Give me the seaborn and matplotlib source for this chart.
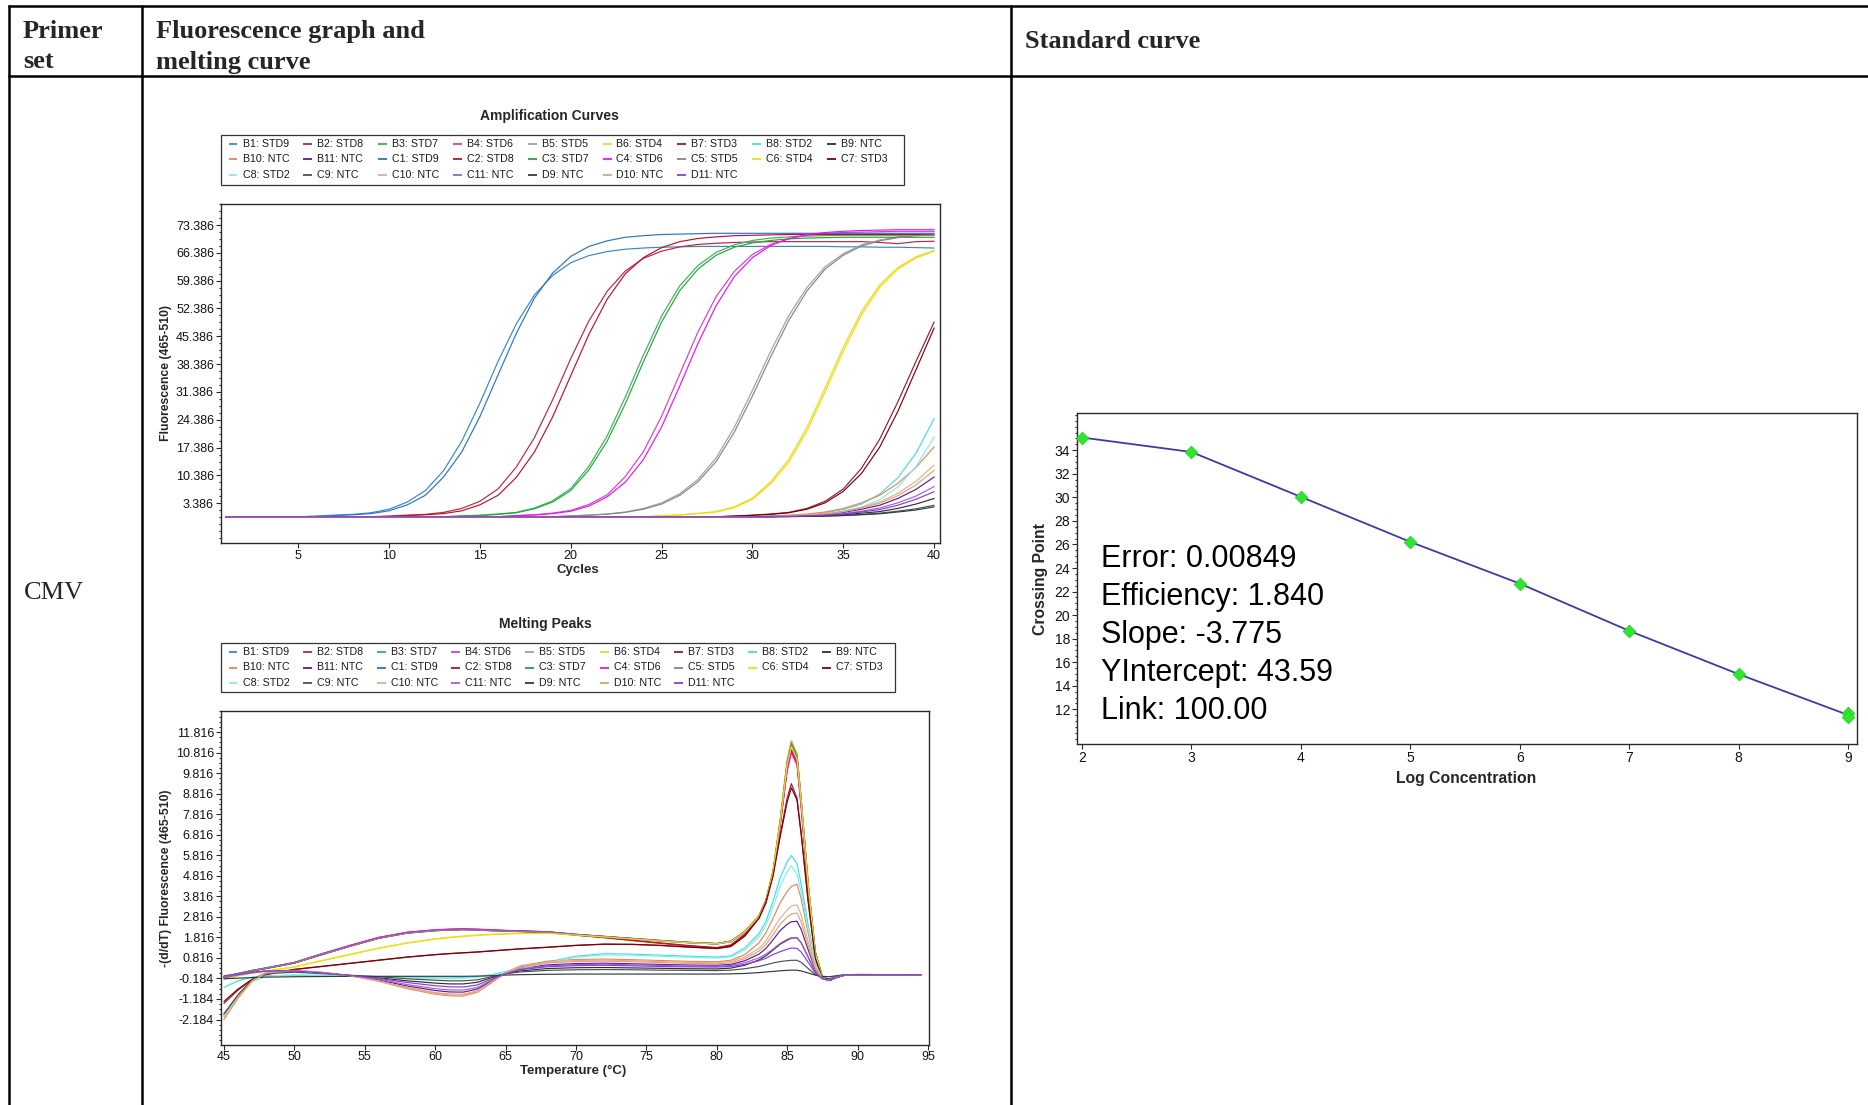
import matplotlib
matplotlib.use("Agg")
import matplotlib.pyplot as plt
from matplotlib.lines import Line2D
from matplotlib.patches import Rectangle
from matplotlib.ticker import AutoMinorLocator, FormatStrFormatter
import pandas as pd
import seaborn as sns

W, H, DPI = 1868, 1105, 100

# ---------------- wells / samples / colours ----------------
wells = ["B1", "B2", "B3", "B4", "B5", "B6", "B7", "B8", "B9",
         "B10", "B11", "C1", "C2", "C3", "C4", "C5", "C6", "C7",
         "C8", "C9", "C10", "C11", "D9", "D10", "D11"]
samples = ["STD9", "STD8", "STD7", "STD6", "STD5", "STD4", "STD3", "STD2", "NTC",
           "NTC", "NTC", "STD9", "STD8", "STD7", "STD6", "STD5", "STD4", "STD3",
           "STD2", "NTC", "NTC", "NTC", "NTC", "NTC", "NTC"]
well_colors = ["#3a86c8", "#b8283c", "#3cb060", "#d040c8", "#a0a0a0", "#e8d830", "#8c1c3c", "#40e0e0", "#303030",
               "#e8845a", "#5a1aa0", "#2a72d0", "#c0102c", "#20a838", "#ee10ee", "#858585", "#f0e000", "#800000",
               "#80eeee", "#505050", "#e0b090", "#a060d0", "#2a4040", "#e8a070", "#8a3ae0"]

# ---------------- amplification curves (fluorescence per cycle) ----------------
cycles = list(range(1, 41))
amp_B1 = [0, 0, 0, 0, 0, 0.2, 0.4, 0.6, 1.0, 1.9, 3.7, 6.6, 11.6, 19.0, 28.6, 39.1, 48.5, 55.8, 60.7, 63.9,
          65.7, 66.7, 67.3, 67.6, 67.8, 67.9, 68.0, 68.0, 68.0, 68.0, 68.0, 68.0, 68.0, 68.0, 67.9, 67.9, 67.8, 67.8, 67.7, 67.6]
amp_B2 = [0, 0, 0, 0, 0, 0, 0, 0, 0, 0.2, 0.4, 0.6, 1.1, 2.1, 3.9, 7.0, 12.5, 19.9, 29.4, 39.8,
          49.3, 56.7, 61.8, 65.0, 66.8, 67.9, 68.5, 68.8, 69.0, 69.1, 69.2, 69.2, 69.2, 69.2, 69.2, 69.2, 69.0, 68.7, 69.2, 69.3]
amp_B3 = [0, 0, 0, 0, 0, 0, 0, 0, 0, 0, 0, 0, 0, 0.2, 0.4, 0.7, 1.1, 2.2, 4.0, 7.1,
          12.7, 20.3, 30.1, 40.7, 50.5, 58.1, 63.2, 66.5, 68.4, 69.5, 70.1, 70.4, 70.6, 70.7, 70.8, 70.8, 70.8, 70.8, 70.8, 70.8]
amp_B4 = [0, 0, 0, 0, 0, 0, 0, 0, 0, 0, 0, 0, 0, 0, 0, 0, 0.3, 0.5, 0.9, 1.6,
          3.1, 5.5, 10.1, 16.4, 25.3, 35.9, 46.5, 55.4, 61.7, 66.0, 68.5, 69.9, 70.8, 71.2, 71.5, 71.6, 71.7, 71.8, 71.8, 71.8]
amp_B5 = [0, 0, 0, 0, 0, 0, 0, 0, 0, 0, 0, 0, 0, 0, 0, 0, 0, 0, 0, 0.25,
          0.4, 0.7, 1.2, 2.1, 3.5, 5.8, 9.4, 14.8, 22.5, 31.8, 41.6, 50.6, 57.7, 62.9, 66.2, 68.4, 69.6, 70.4, 70.9, 71.1]
amp_B6 = [0, 0, 0, 0, 0, 0, 0, 0, 0, 0, 0, 0, 0, 0, 0, 0, 0, 0, 0, 0,
          0, 0, 0, 0, 0.25, 0.5, 0.85, 1.3, 2.5, 4.7, 8.8, 14.4, 22.5, 32.4, 42.7, 51.6, 58.3, 62.7, 65.4, 67.0]
amp_B7 = [0, 0, 0, 0, 0, 0, 0, 0, 0, 0, 0, 0, 0, 0, 0, 0, 0, 0, 0, 0,
          0, 0, 0, 0, 0, 0, 0, 0, 0.2, 0.4, 0.7, 1.1, 2.1, 3.9, 7.0, 12.2, 19.5, 28.9, 39.1, 49.0]
amp_B8 = [0, 0, 0, 0, 0, 0, 0, 0, 0, 0, 0, 0, 0, 0, 0, 0, 0, 0, 0, 0,
          0, 0, 0, 0, 0, 0, 0, 0, 0, 0, 0, 0.3, 0.55, 1.0, 1.8, 3.2, 5.7, 9.8, 16.0, 24.7]
amp_B9 = [0, 0, 0, 0, 0, 0, 0, 0, 0, 0, 0, 0, 0, 0, 0, 0, 0, 0, 0, 0,
          0, 0, 0, 0, 0, 0, 0, 0, 0, 0, 0.05, 0.1, 0.2, 0.3, 0.5, 0.9, 1.3, 2.1, 3.2, 4.6]
amp_B10 = [0, 0, 0, 0, 0, 0, 0, 0, 0, 0, 0, 0, 0, 0, 0, 0, 0, 0, 0, 0,
           0, 0, 0, 0, 0, 0, 0, 0, 0, 0, 0.2, 0.4, 0.7, 1.2, 2.1, 3.5, 5.4, 8.4, 12.4, 17.6]
amp_B11 = [0, 0, 0, 0, 0, 0, 0, 0, 0, 0, 0, 0, 0, 0, 0, 0, 0, 0, 0, 0,
           0, 0, 0, 0, 0, 0, 0, 0, 0, 0, 0.1, 0.2, 0.4, 0.65, 1.1, 1.9, 2.9, 4.6, 6.9, 10.0]
amp_C1 = [0, 0, 0, 0, 0, 0, 0.3, 0.5, 0.8, 1.5, 3.0, 5.4, 10.0, 16.3, 25.2, 35.7, 46.1, 55.0, 61.3, 65.5,
          68.0, 69.4, 70.3, 70.7, 71.0, 71.1, 71.2, 71.3, 71.3, 71.3, 71.3, 71.3, 71.3, 71.3, 71.3, 71.3, 71.3, 71.3, 71.3, 71.3]
amp_C2 = [0, 0, 0, 0, 0, 0, 0, 0, 0, 0, 0.3, 0.5, 0.8, 1.5, 3.0, 5.4, 9.9, 16.3, 25.1, 35.5,
          45.9, 54.7, 61.1, 65.2, 67.7, 69.2, 70.0, 70.4, 70.7, 70.8, 70.9, 71.0, 71.0, 71.0, 71.0, 71.0, 71.0, 71.0, 71.0, 71.0]
amp_C3 = [0, 0, 0, 0, 0, 0, 0, 0, 0, 0, 0, 0, 0, 0.2, 0.3, 0.6, 1.0, 2.0, 3.7, 6.6,
          11.8, 19.0, 28.4, 39.0, 49.0, 56.9, 62.3, 65.8, 67.8, 68.9, 69.5, 69.9, 70.1, 70.2, 70.3, 70.3, 70.3, 70.3, 70.3, 70.3]
amp_C4 = [0, 0, 0, 0, 0, 0, 0, 0, 0, 0, 0, 0, 0, 0, 0, 0, 0.25, 0.45, 0.8, 1.4,
          2.7, 5.0, 8.7, 14.4, 22.6, 32.9, 43.6, 53.1, 60.4, 65.2, 68.2, 70.0, 71.0, 71.5, 71.8, 72.0, 72.1, 72.2, 72.2, 72.2]
amp_C5 = [0, 0, 0, 0, 0, 0, 0, 0, 0, 0, 0, 0, 0, 0, 0, 0, 0, 0, 0, 0.2,
          0.4, 0.65, 1.1, 1.9, 3.2, 5.4, 8.8, 13.9, 21.3, 30.4, 40.2, 49.4, 56.8, 62.3, 65.8, 68.1, 69.4, 70.2, 70.7, 70.9]
amp_C6 = [0, 0, 0, 0, 0, 0, 0, 0, 0, 0, 0, 0, 0, 0, 0, 0, 0, 0, 0, 0,
          0, 0, 0, 0, 0.2, 0.45, 0.8, 1.2, 2.3, 4.4, 8.3, 13.7, 21.6, 31.4, 41.7, 50.8, 57.7, 62.3, 65.1, 66.8]
amp_C7 = [0, 0, 0, 0, 0, 0, 0, 0, 0, 0, 0, 0, 0, 0, 0, 0, 0, 0, 0, 0,
          0, 0, 0, 0, 0, 0, 0, 0, 0.15, 0.35, 0.6, 1.0, 1.9, 3.5, 6.4, 10.9, 17.5, 26.5, 37.0, 47.5]
amp_C8 = [0, 0, 0, 0, 0, 0, 0, 0, 0, 0, 0, 0, 0, 0, 0, 0, 0, 0, 0, 0,
          0, 0, 0, 0, 0, 0, 0, 0, 0, 0, 0, 0, 0.4, 0.7, 1.3, 2.4, 4.3, 7.5, 12.6, 20.1]
amp_C9 = [0, 0, 0, 0, 0, 0, 0, 0, 0, 0, 0, 0, 0, 0, 0, 0, 0, 0, 0, 0,
          0, 0, 0, 0, 0, 0, 0, 0, 0, 0, 0, 0.05, 0.1, 0.2, 0.35, 0.6, 0.9, 1.4, 2.0, 2.9]
amp_C10 = [0, 0, 0, 0, 0, 0, 0, 0, 0, 0, 0, 0, 0, 0, 0, 0, 0, 0, 0, 0,
           0, 0, 0, 0, 0, 0, 0, 0, 0, 0, 0.15, 0.3, 0.5, 0.8, 1.4, 2.4, 3.7, 5.9, 8.9, 13.0]
amp_C11 = [0, 0, 0, 0, 0, 0, 0, 0, 0, 0, 0, 0, 0, 0, 0, 0, 0, 0, 0, 0,
           0, 0, 0, 0, 0, 0, 0, 0, 0, 0, 0.1, 0.15, 0.3, 0.5, 0.8, 1.4, 2.2, 3.5, 5.2, 7.6]
amp_D9 = [0, 0, 0, 0, 0, 0, 0, 0, 0, 0, 0, 0, 0, 0, 0, 0, 0, 0, 0, 0,
          0, 0, 0, 0, 0, 0, 0, 0, 0, 0, 0, 0.05, 0.1, 0.15, 0.3, 0.5, 0.75, 1.2, 1.7, 2.5]
amp_D10 = [0, 0, 0, 0, 0, 0, 0, 0, 0, 0, 0, 0, 0, 0, 0, 0, 0, 0, 0, 0,
           0, 0, 0, 0, 0, 0, 0, 0, 0, 0, 0.1, 0.25, 0.45, 0.75, 1.3, 2.2, 3.4, 5.3, 8.0, 11.7]
amp_D11 = [0, 0, 0, 0, 0, 0, 0, 0, 0, 0, 0, 0, 0, 0, 0, 0, 0, 0, 0, 0,
           0, 0, 0, 0, 0, 0, 0, 0, 0, 0, 0.05, 0.1, 0.25, 0.4, 0.7, 1.2, 1.8, 2.9, 4.4, 6.3]

amp_xticks = [5, 10, 15, 20, 25, 30, 35, 40]
amp_yticks = [3.386, 10.386, 17.386, 24.386, 31.386, 38.386, 45.386, 52.386, 59.386, 66.386, 73.386]

# ---------------- melting peaks (-dF/dT per temperature) ----------------
temps = [45, 46, 47, 48, 50, 52, 54, 56, 58, 60, 61, 62, 63, 64, 65, 66, 68, 70, 72, 74, 76,
         78, 80, 81, 82, 83, 83.5, 84, 84.5, 85, 85.3, 85.7, 86, 86.5, 87, 87.5, 88, 88.5, 89, 90, 92, 94.5]
melt_B1 = [-0.12, 0.04, 0.19, 0.31, 0.57, 1.00, 1.41, 1.79, 2.04, 2.16, 2.19, 2.21, 2.19, 2.16, 2.14, 2.12, 2.08, 1.96, 1.86, 1.76, 1.66,
           1.57, 1.51, 1.63, 2.12, 2.88, 3.65, 5.05, 7.5, 10.4, 11.4, 10.7, 8.5, 4.4, 1.1, -0.10, -0.26, -0.12, -0.03, 0.0, 0.0, 0.0]
melt_B2 = [-0.15, 0.02, 0.18, 0.30, 0.56, 0.98, 1.39, 1.77, 2.02, 2.14, 2.17, 2.19, 2.17, 2.14, 2.12, 2.10, 2.05, 1.92, 1.80, 1.66, 1.52,
           1.40, 1.30, 1.42, 1.95, 2.75, 3.5, 4.9, 7.3, 10.1, 11.0, 10.4, 8.3, 4.2, 1.0, -0.14, -0.28, -0.14, -0.04, 0.0, 0.0, 0.0]
melt_B3 = [-0.10, 0.05, 0.20, 0.32, 0.58, 1.01, 1.42, 1.80, 2.05, 2.16, 2.19, 2.21, 2.19, 2.16, 2.14, 2.12, 2.07, 1.95, 1.85, 1.75, 1.65,
           1.57, 1.50, 1.62, 2.10, 2.86, 3.62, 5.02, 7.45, 10.35, 11.3, 10.7, 8.5, 4.4, 1.1, -0.10, -0.25, -0.12, -0.03, 0.0, 0.0, 0.0]
melt_B4 = [-0.14, 0.03, 0.20, 0.33, 0.60, 1.03, 1.44, 1.82, 2.07, 2.19, 2.22, 2.24, 2.22, 2.19, 2.16, 2.14, 2.09, 1.96, 1.86, 1.76, 1.66,
           1.57, 1.51, 1.62, 2.08, 2.82, 3.55, 4.95, 7.3, 10.1, 11.0, 10.4, 8.3, 4.2, 1.0, -0.12, -0.27, -0.13, -0.03, 0.0, 0.0, 0.0]
melt_B5 = [-0.09, 0.06, 0.21, 0.33, 0.58, 1.00, 1.40, 1.78, 2.03, 2.15, 2.18, 2.20, 2.18, 2.15, 2.13, 2.11, 2.07, 1.95, 1.85, 1.75, 1.65,
           1.56, 1.50, 1.61, 2.08, 2.83, 3.58, 4.98, 7.35, 10.2, 11.1, 10.5, 8.4, 4.3, 1.0, -0.11, -0.26, -0.12, -0.03, 0.0, 0.0, 0.0]
melt_B6 = [-0.20, -0.05, 0.08, 0.18, 0.38, 0.70, 1.00, 1.30, 1.55, 1.75, 1.82, 1.88, 1.93, 1.97, 2.00, 2.02, 2.03, 1.94, 1.85, 1.75, 1.65,
           1.57, 1.51, 1.63, 2.12, 2.90, 3.7, 5.1, 7.6, 10.5, 11.4, 10.8, 8.6, 4.5, 1.1, -0.10, -0.26, -0.12, -0.03, 0.0, 0.0, 0.0]
melt_B7 = [-1.40, -0.75, -0.25, 0.00, 0.25, 0.40, 0.55, 0.70, 0.85, 0.97, 1.02, 1.06, 1.10, 1.15, 1.20, 1.25, 1.33, 1.42, 1.48, 1.47, 1.42,
           1.34, 1.27, 1.37, 1.90, 2.80, 3.6, 4.9, 6.8, 8.6, 9.3, 8.6, 6.9, 3.6, 0.8, -0.15, -0.28, -0.13, -0.03, 0.0, 0.0, 0.0]
melt_B8 = [-0.62, -0.30, -0.12, -0.05, -0.03, -0.05, -0.08, -0.11, -0.14, -0.16, -0.16, -0.14, -0.10, 0.00, 0.15, 0.32, 0.62, 0.90, 1.02, 1.00, 0.95,
           0.90, 0.86, 0.92, 1.30, 2.0, 2.6, 3.6, 4.7, 5.5, 5.8, 5.4, 4.4, 2.4, 0.6, -0.15, -0.24, -0.10, -0.02, 0.02, 0.0, 0.0]
melt_B9 = [-1.95, -1.00, -0.25, 0.10, 0.18, 0.08, -0.04, -0.15, -0.30, -0.41, -0.45, -0.45, -0.37, -0.15, 0.05, 0.18, 0.30, 0.34, 0.35, 0.33, 0.31,
           0.29, 0.28, 0.32, 0.46, 0.72, 0.92, 1.20, 1.48, 1.68, 1.78, 1.8, 1.55, 0.85, 0.15, -0.18, -0.25, -0.11, -0.02, 0.0, 0.0, 0.0]
melt_B10 = [-2.05, -1.05, -0.27, 0.12, 0.22, 0.12, -0.05, -0.32, -0.68, -0.95, -1.03, -1.04, -0.86, -0.40, 0.10, 0.42, 0.66, 0.74, 0.76, 0.73, 0.69,
            0.65, 0.63, 0.70, 0.98, 1.55, 2.05, 2.75, 3.5, 4.05, 4.3, 4.4, 3.7, 2.0, 0.45, -0.18, -0.28, -0.12, -0.02, 0.0, 0.0, 0.0]
melt_B11 = [-0.10, 0.00, 0.10, 0.18, 0.20, 0.10, -0.05, -0.26, -0.55, -0.77, -0.84, -0.85, -0.70, -0.32, 0.07, 0.30, 0.48, 0.54, 0.56, 0.53, 0.50,
            0.47, 0.46, 0.50, 0.68, 1.00, 1.28, 1.70, 2.15, 2.45, 2.58, 2.6, 2.2, 1.2, 0.25, -0.20, -0.28, -0.12, -0.02, 0.0, 0.0, 0.0]
melt_C1 = [-0.08, 0.06, 0.21, 0.33, 0.59, 1.02, 1.42, 1.80, 2.05, 2.17, 2.20, 2.22, 2.20, 2.17, 2.15, 2.13, 2.09, 1.97, 1.87, 1.77, 1.67,
           1.58, 1.52, 1.64, 2.10, 2.85, 3.6, 5.0, 7.4, 10.2, 11.2, 10.6, 8.4, 4.3, 1.0, -0.12, -0.27, -0.13, -0.04, 0.0, 0.0, 0.0]
melt_C2 = [-0.13, 0.03, 0.19, 0.31, 0.57, 0.99, 1.40, 1.78, 2.03, 2.15, 2.18, 2.20, 2.18, 2.15, 2.13, 2.11, 2.06, 1.93, 1.81, 1.68, 1.55,
           1.42, 1.32, 1.45, 1.97, 2.78, 3.55, 4.95, 7.3, 10.0, 10.9, 10.3, 8.2, 4.1, 0.9, -0.15, -0.29, -0.14, -0.04, 0.0, 0.0, 0.0]
melt_C3 = [-0.11, 0.04, 0.19, 0.31, 0.57, 1.00, 1.41, 1.79, 2.04, 2.15, 2.18, 2.20, 2.18, 2.15, 2.13, 2.11, 2.07, 1.94, 1.84, 1.74, 1.64,
           1.56, 1.50, 1.61, 2.09, 2.84, 3.6, 5.0, 7.4, 10.3, 11.2, 10.6, 8.4, 4.3, 1.1, -0.11, -0.26, -0.12, -0.03, 0.0, 0.0, 0.0]
melt_C4 = [-0.16, 0.02, 0.19, 0.32, 0.59, 1.02, 1.43, 1.81, 2.06, 2.18, 2.21, 2.23, 2.21, 2.18, 2.15, 2.13, 2.08, 1.95, 1.85, 1.75, 1.65,
           1.56, 1.50, 1.60, 2.05, 2.78, 3.5, 4.9, 7.2, 9.9, 10.8, 10.2, 8.1, 4.1, 0.9, -0.13, -0.28, -0.13, -0.04, 0.0, 0.0, 0.0]
melt_C5 = [-0.10, 0.05, 0.20, 0.32, 0.57, 0.99, 1.39, 1.77, 2.02, 2.14, 2.17, 2.19, 2.17, 2.14, 2.12, 2.10, 2.06, 1.94, 1.84, 1.74, 1.64,
           1.56, 1.50, 1.62, 2.10, 2.86, 3.62, 5.03, 7.45, 10.35, 11.3, 10.7, 8.5, 4.4, 1.1, -0.10, -0.25, -0.12, -0.03, 0.0, 0.0, 0.0]
melt_C6 = [-0.22, -0.06, 0.07, 0.17, 0.37, 0.68, 0.98, 1.28, 1.53, 1.73, 1.80, 1.86, 1.91, 1.95, 1.98, 2.00, 2.01, 1.93, 1.84, 1.74, 1.64,
           1.56, 1.50, 1.61, 2.08, 2.84, 3.6, 5.0, 7.4, 10.2, 11.1, 10.5, 8.4, 4.3, 1.0, -0.11, -0.26, -0.12, -0.03, 0.0, 0.0, 0.0]
melt_C7 = [-1.30, -0.70, -0.22, 0.02, 0.26, 0.41, 0.56, 0.71, 0.86, 0.98, 1.03, 1.07, 1.11, 1.16, 1.21, 1.26, 1.34, 1.43, 1.49, 1.48, 1.43,
           1.35, 1.28, 1.38, 1.88, 2.75, 3.55, 4.8, 6.7, 8.4, 9.1, 8.5, 6.8, 3.5, 0.8, -0.16, -0.29, -0.14, -0.03, 0.0, 0.0, 0.0]
melt_C8 = [-2.00, -1.10, -0.35, -0.08, 0.00, -0.02, -0.06, -0.10, -0.14, -0.18, -0.19, -0.17, -0.12, -0.02, 0.12, 0.28, 0.58, 0.85, 0.96, 0.95, 0.90,
           0.85, 0.81, 0.87, 1.20, 1.85, 2.4, 3.3, 4.3, 5.0, 5.3, 4.9, 4.0, 2.2, 0.5, -0.16, -0.25, -0.10, -0.02, 0.02, 0.0, 0.0]
melt_C9 = [-1.90, -0.98, -0.26, 0.05, 0.12, 0.05, -0.03, -0.10, -0.20, -0.27, -0.30, -0.30, -0.25, -0.10, 0.04, 0.13, 0.21, 0.24, 0.25, 0.24, 0.22,
           0.21, 0.20, 0.22, 0.29, 0.40, 0.48, 0.57, 0.64, 0.68, 0.7, 0.7, 0.6, 0.3, 0.0, -0.15, -0.20, -0.09, -0.02, 0.0, 0.0, 0.0]
melt_C10 = [-2.15, -1.10, -0.30, 0.10, 0.21, 0.11, -0.06, -0.31, -0.65, -0.91, -0.99, -1.00, -0.83, -0.38, 0.09, 0.39, 0.62, 0.69, 0.71, 0.68, 0.64,
            0.60, 0.58, 0.64, 0.86, 1.28, 1.65, 2.2, 2.75, 3.15, 3.35, 3.4, 2.9, 1.6, 0.35, -0.19, -0.28, -0.12, -0.02, 0.0, 0.0, 0.0]
melt_C11 = [-0.15, -0.02, 0.09, 0.17, 0.19, 0.09, -0.05, -0.22, -0.48, -0.68, -0.74, -0.75, -0.62, -0.28, 0.06, 0.27, 0.43, 0.49, 0.51, 0.48, 0.45,
            0.42, 0.41, 0.45, 0.58, 0.82, 1.00, 1.25, 1.52, 1.72, 1.8, 1.8, 1.55, 0.85, 0.15, -0.20, -0.27, -0.12, -0.02, 0.0, 0.0, 0.0]
melt_D9 = [-0.20, -0.17, -0.14, -0.12, -0.10, -0.09, -0.08, -0.08, -0.08, -0.08, -0.08, -0.08, -0.07, -0.05, -0.02, 0.00, 0.02, 0.03, 0.03, 0.03, 0.03,
           0.03, 0.03, 0.04, 0.06, 0.10, 0.13, 0.16, 0.19, 0.21, 0.22, 0.22, 0.18, 0.08, -0.02, -0.08, -0.10, -0.05, -0.01, 0.0, 0.0, 0.0]
melt_D10 = [-2.20, -1.15, -0.32, 0.08, 0.20, 0.10, -0.06, -0.30, -0.62, -0.87, -0.94, -0.95, -0.79, -0.36, 0.08, 0.36, 0.58, 0.64, 0.66, 0.63, 0.59,
            0.55, 0.53, 0.58, 0.78, 1.15, 1.48, 1.95, 2.45, 2.8, 2.95, 3.0, 2.55, 1.4, 0.3, -0.20, -0.28, -0.12, -0.02, 0.0, 0.0, 0.0]
melt_D11 = [-0.05, 0.03, 0.12, 0.18, 0.18, 0.08, -0.04, -0.18, -0.38, -0.54, -0.59, -0.60, -0.50, -0.22, 0.05, 0.24, 0.39, 0.44, 0.46, 0.43, 0.40,
            0.38, 0.37, 0.40, 0.50, 0.68, 0.80, 0.98, 1.12, 1.24, 1.3, 1.28, 1.1, 0.6, 0.08, -0.20, -0.27, -0.12, -0.02, 0.0, 0.0, 0.0]

melt_xticks = [45, 50, 55, 60, 65, 70, 75, 80, 85, 90, 95]
melt_yticks = [-2.184, -1.184, -0.184, 0.816, 1.816, 2.816, 3.816, 4.816, 5.816, 6.816, 7.816, 8.816, 9.816, 10.816, 11.816]

# ---------------- standard curve ----------------
log_conc = [2, 3, 4, 5, 6, 7, 8, 9, 9]
crossing_point = [35.08, 33.85, 30.04, 26.22, 22.68, 18.67, 14.99, 11.70, 11.35]
std_xticks = [2, 3, 4, 5, 6, 7, 8, 9]
std_yticks = [12, 14, 16, 18, 20, 22, 24, 26, 28, 30, 32, 34]
fit_stats = ["Error: 0.00849", "Efficiency: 1.840", "Slope: -3.775", "YIntercept: 43.59", "Link: 100.00"]

# ---------------- table text ----------------
header_primer = ["Primer", "set"]
header_graphs = ["Fluorescence graph and", "melting curve"]
header_std = "Standard curve"
row_label = "CMV"

# =====================================================================
sns.set_theme(style="white")
plt.rcParams["font.family"] = ["Liberation Sans", "DejaVu Sans"]

amp = dict(zip(wells, [amp_B1, amp_B2, amp_B3, amp_B4, amp_B5, amp_B6, amp_B7, amp_B8, amp_B9, amp_B10, amp_B11,
                       amp_C1, amp_C2, amp_C3, amp_C4, amp_C5, amp_C6, amp_C7, amp_C8, amp_C9, amp_C10, amp_C11,
                       amp_D9, amp_D10, amp_D11]))
melt = dict(zip(wells, [melt_B1, melt_B2, melt_B3, melt_B4, melt_B5, melt_B6, melt_B7, melt_B8, melt_B9, melt_B10, melt_B11,
                        melt_C1, melt_C2, melt_C3, melt_C4, melt_C5, melt_C6, melt_C7, melt_C8, melt_C9, melt_C10, melt_C11,
                        melt_D9, melt_D10, melt_D11]))
palette = dict(zip(wells, well_colors))

df_amp = pd.DataFrame([(w, c, v) for w in wells for c, v in zip(cycles, amp[w])],
                      columns=["well", "cycle", "fluor"])
df_melt = pd.DataFrame([(w, t, v) for w in wells for t, v in zip(temps, melt[w])],
                       columns=["well", "temp", "deriv"])
df_std = pd.DataFrame({"logc": log_conc, "cp": crossing_point})

fig = plt.figure(figsize=(W / DPI, H / DPI), dpi=DPI)
fig.patch.set_facecolor("white")


def fx(x):
    return x / W


def fy(y):
    return 1 - y / H


def axes_px(x0, y0, x1, y1):
    return fig.add_axes([fx(x0), fy(y1), (x1 - x0) / W, (y1 - y0) / H])


def line_px(xs, ys, color="black", lw=1.5):
    fig.add_artist(Line2D([fx(x) for x in xs], [fy(y) for y in ys], transform=fig.transFigure,
                          color=color, lw=lw, solid_capstyle="butt"))


def style_axes(ax, labelsize=9):
    for s in ax.spines.values():
        s.set_color("#2a2a2a")
        s.set_linewidth(1.0)
    ax.tick_params(which="both", direction="out", color="#2a2a2a", labelcolor="#111111", width=0.8,
                   bottom=True, left=True, top=False, right=False)
    ax.tick_params(which="major", length=3.5, labelsize=labelsize, pad=1.5)
    ax.tick_params(which="minor", length=1.8)
    ax.set_xlabel("")
    ax.set_ylabel("")
    ax.grid(False)
    ax.set_facecolor("white")


def well_legend(x0, y0, x1, y1, first_x, dx, rows_y):
    fig.add_artist(Rectangle((fx(x0), fy(y1)), (x1 - x0) / W, (y1 - y0) / H, transform=fig.transFigure,
                             fill=False, ec="#333333", lw=0.9))
    for i, (w, s) in enumerate(zip(wells, samples)):
        r, c = divmod(i, 9)
        xm = first_x + c * dx
        ym = rows_y[r]
        line_px([xm, xm + 9], [ym, ym], color=palette[w], lw=1.3)
        fig.text(fx(xm + 14), fy(ym), f"{w}: {s}", fontsize=7.7, ha="left", va="center", color="#1a1a1a")


# ---------------- table grid ----------------
line_px([8.0, W], [6, 6], lw=1.8)
line_px([8.0, W], [76, 76], lw=1.8)
for xv in (9.3, 141.7, 1011):
    line_px([xv, xv], [5, H], lw=1.8)

serif = ["Liberation Serif", "DejaVu Serif"]
hdr = dict(fontsize=19, weight="bold", family=serif, va="baseline")
fig.text(fx(23), fy(37.7), header_primer[0], **hdr)
fig.text(fx(23), fy(68.5), header_primer[1], **hdr)
fig.text(fx(156), fy(37.7), header_graphs[0], **hdr)
fig.text(fx(156), fy(68.5), header_graphs[1], **hdr)
fig.text(fx(1025), fy(48.5), header_std, **hdr)
fig.text(fx(24), fy(593), row_label, fontsize=19, family=serif, va="center")

# ---------------- amplification curves ----------------
ax1 = axes_px(221, 204, 940, 543)
sns.lineplot(data=df_amp, x="cycle", y="fluor", hue="well", hue_order=wells, palette=palette,
             estimator=None, legend=False, linewidth=0.85, ax=ax1)
ax1.set_xlim(0.75, 40.32)
ax1.set_ylim(-6.6, 78.67)
ax1.set_xticks(amp_xticks)
ax1.set_yticks(amp_yticks)
ax1.yaxis.set_major_formatter(FormatStrFormatter("%.3f"))
ax1.yaxis.set_minor_locator(AutoMinorLocator(4))
style_axes(ax1)
fig.text(fx(549), fy(116), "Amplification Curves", fontsize=10, weight="bold", ha="center", va="center")
well_legend(221, 135, 904, 185, 228.5, 74.8, [144, 159.5, 175])
fig.text(fx(578), fy(570), "Cycles", fontsize=9.5, weight="bold", ha="center", va="center")
fig.text(fx(166), fy(373), "Fluorescence (465-510)", fontsize=8.8, weight="bold", rotation=90,
         ha="center", va="center")

# ---------------- melting peaks ----------------
ax2 = axes_px(221, 711, 928.5, 1044.5)
sns.lineplot(data=df_melt, x="temp", y="deriv", hue="well", hue_order=wells, palette=palette,
             estimator=None, legend=False, linewidth=0.85, ax=ax2)
ax2.set_xlim(44.79, 95.04)
ax2.set_ylim(-3.40, 12.84)
ax2.set_xticks(melt_xticks)
ax2.set_yticks(melt_yticks)
ax2.yaxis.set_major_formatter(FormatStrFormatter("%.3f"))
ax2.yaxis.set_minor_locator(AutoMinorLocator(4))
style_axes(ax2)
fig.text(fx(545.5), fy(624), "Melting Peaks", fontsize=10, weight="bold", ha="center", va="center")
well_legend(221, 643, 895, 692, 228.5, 74.2, [652, 667.5, 683])
fig.text(fx(573), fy(1071), "Temperature (\u00b0C)", fontsize=9.5, weight="bold", ha="center", va="center")
fig.text(fx(166), fy(878), "-(d/dT) Fluorescence (465-510)", fontsize=8.8, weight="bold", rotation=90,
         ha="center", va="center")

# ---------------- standard curve ----------------
ax3 = axes_px(1077, 413, 1857, 744)
sns.lineplot(data=df_std, x="logc", y="cp", color="#3b3ba6", linewidth=1.3, errorbar=None, ax=ax3)
sns.scatterplot(data=df_std, x="logc", y="cp", marker="D", color="#2ee62e", edgecolor="#22cc22",
                s=42, linewidth=0.5, zorder=5, ax=ax3)
ax3.set_xlim(1.954, 9.082)
ax3.set_ylim(9.06, 37.16)
ax3.set_xticks(std_xticks)
ax3.set_yticks(std_yticks)
ax3.yaxis.set_minor_locator(AutoMinorLocator(4))
style_axes(ax3, labelsize=10)
for i, s in enumerate(fit_stats):
    fig.text(fx(1101), fy(567 + 38.1 * i), s, fontsize=22, ha="left", va="baseline", color="black")
fig.text(fx(1466), fy(778), "Log Concentration", fontsize=11.3, weight="bold", ha="center", va="center")
fig.text(fx(1040.5), fy(579), "Crossing Point", fontsize=11.3, weight="bold", rotation=90,
         ha="center", va="center")

fig.savefig("out.png", dpi=DPI, facecolor="white")
